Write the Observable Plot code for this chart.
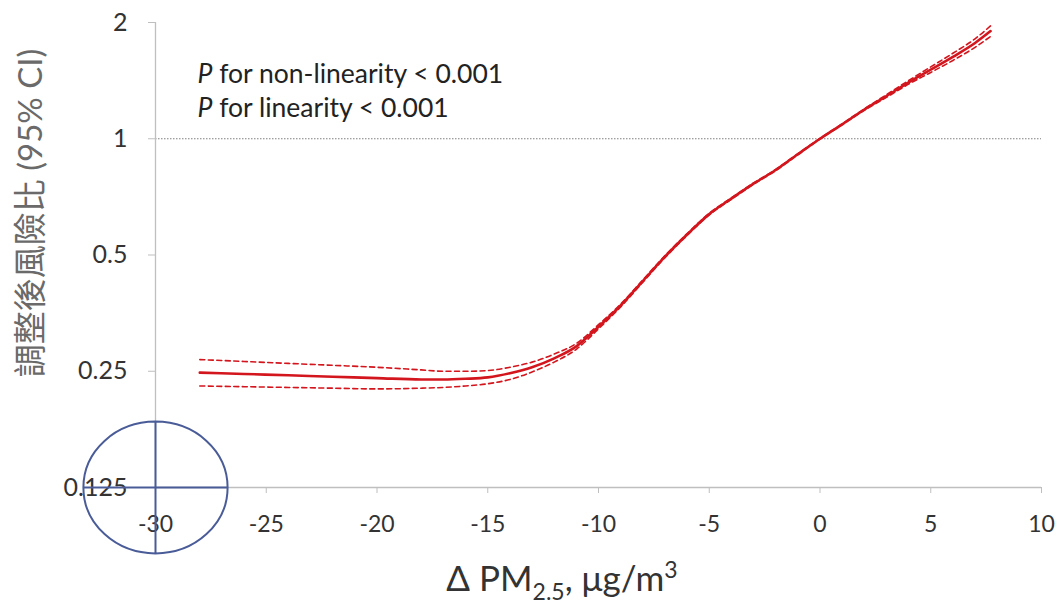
<!DOCTYPE html>
<html><head><meta charset="utf-8">
<script src="https://cdn.jsdelivr.net/npm/d3@7"></script>
<script src="https://cdn.jsdelivr.net/npm/@observablehq/plot@0.6"></script>
<style>body{margin:0;background:#fff} svg{display:block}</style>
</head><body><div id="chart"></div>
<script>
// ΔPM2.5 (µg/m³)
const xValues = [-28, -26, -24, -22, -20, -18, -17, -16, -15, -14, -13, -12, -11, -10, -9, -8, -7, -6, -5, -4, -3, -2, -1, 0, 1, 2, 3, 4, 5, 6, 7, 7.7];
// adjusted hazard ratio
const hr =    [0.248, 0.246, 0.244, 0.242, 0.240, 0.238, 0.238, 0.239, 0.241, 0.247, 0.256, 0.270, 0.290, 0.326, 0.370, 0.428, 0.495, 0.565, 0.638, 0.700, 0.765, 0.830, 0.912, 1.0, 1.09, 1.19, 1.29, 1.40, 1.51, 1.63, 1.77, 1.90];
const lower = [0.229, 0.228, 0.227, 0.226, 0.225, 0.226, 0.227, 0.229, 0.232, 0.238, 0.249, 0.264, 0.285, 0.322, 0.367, 0.425, 0.492, 0.562, 0.635, 0.697, 0.762, 0.827, 0.909, 0.998, 1.087, 1.185, 1.28, 1.385, 1.485, 1.595, 1.725, 1.84];
const upper = [0.268, 0.265, 0.262, 0.259, 0.256, 0.252, 0.250, 0.250, 0.251, 0.256, 0.264, 0.277, 0.295, 0.330, 0.373, 0.431, 0.498, 0.568, 0.641, 0.703, 0.768, 0.833, 0.915, 1.002, 1.093, 1.195, 1.30, 1.415, 1.535, 1.665, 1.815, 1.96];

const xTicks = [-30, -25, -20, -15, -10, -5, 0, 5, 10];
const yTicks = [0.125, 0.25, 0.5, 1, 2];
const yTickLabels = ["0.125", "0.25", "0.5", "1", "2"];
const refValue = [1];
const notes = ["P for non-linearity < 0.001", "P for linearity < 0.001"];
const yLabel = "調整後風險比 (95% CI)";
const xLabelParts = ["Δ PM", "2.5", ", μg/m", "3"];
const highlight = [{x: -30, y: 0.125}];

const rows = xValues.map((x, i) => ({x, hr: hr[i], lo: lower[i], hi: upper[i]}));

const red = "#d3151d";
const blue = "#4a5c98";
const axisGray = "#bfbfbf";
const font = "Lato, 'Noto Sans CJK TC', sans-serif";

// ellipse with cross (annotation symbol)
const ellipseCross = {
  draw(ctx, size) {
    const r = Math.sqrt(size / Math.PI);
    const rx = r * 1.045, ry = r * 0.955, k = 0.5523;
    ctx.moveTo(rx, 0);
    ctx.bezierCurveTo(rx, ry * k, rx * k, ry, 0, ry);
    ctx.bezierCurveTo(-rx * k, ry, -rx, ry * k, -rx, 0);
    ctx.bezierCurveTo(-rx, -ry * k, -rx * k, -ry, 0, -ry);
    ctx.bezierCurveTo(rx * k, -ry, rx, -ry * k, rx, 0);
    ctx.closePath();
    ctx.moveTo(-rx, 0); ctx.lineTo(rx, 0);
    ctx.moveTo(0, -ry); ctx.lineTo(0, ry);
  }
};

const chart = Plot.plot({
  width: 1063,
  height: 613,
  marginLeft: 155,
  marginRight: 22,
  marginTop: 22,
  marginBottom: 126,
  style: {fontFamily: font, background: "#fff", color: "#333"},
  x: {domain: [-30, 10], ticks: xTicks},
  y: {type: "log", base: 2, domain: [0.125, 2], ticks: yTicks},
  marks: [
    Plot.ruleY(refValue, {stroke: "#808080", strokeDasharray: "1.5,1.5", strokeWidth: 1.2}),
    Plot.ruleX([xTicks[0]], {stroke: axisGray, strokeWidth: 1.3}),
    Plot.ruleY([yTicks[0]], {stroke: axisGray, strokeWidth: 1.3}),
    Plot.axisX({ticks: xTicks, tickSize: 6, tickPadding: 22, fontSize: 23, stroke: axisGray, label: null, tickFormat: d => String(d)}),
    Plot.axisY({ticks: yTicks, tickSize: 7, tickPadding: 21, fontSize: 25, stroke: axisGray, label: null, tickFormat: d => yTickLabels[yTicks.indexOf(d)]}),
    Plot.line(rows, {x: "x", y: "lo", stroke: red, strokeWidth: 1.6, strokeDasharray: "5,3.5", curve: "monotone-x"}),
    Plot.line(rows, {x: "x", y: "hi", stroke: red, strokeWidth: 1.6, strokeDasharray: "5,3.5", curve: "monotone-x"}),
    Plot.line(rows, {x: "x", y: "hr", stroke: red, strokeWidth: 2.6, curve: "monotone-x"}),
    Plot.text([notes[0]], {frameAnchor: "top-left", dx: 42, dy: 42, textAnchor: "start", fontSize: 26.5, fill: "#222", className: "pnote"}),
    Plot.text([notes[1]], {frameAnchor: "top-left", dx: 42, dy: 76, textAnchor: "start", fontSize: 26.5, fill: "#222", className: "pnote"}),
    Plot.text([yLabel], {frameAnchor: "left", rotate: -90, dx: -124, dy: -42, textAnchor: "middle", fontSize: 33, fill: "#6a6a6a"}),
    Plot.dot(highlight, {x: "x", y: "y", r: 69, symbol: ellipseCross, stroke: blue, strokeWidth: 2, fill: "none", clip: false})
  ]
});

// italic "P" in the notes
d3.select(chart).selectAll(".pnote text").each(function() {
  const t = this.textContent;
  const sel = d3.select(this);
  sel.text(null);
  sel.append("tspan").attr("font-style", "italic").text(t.slice(0, 1));
  sel.append("tspan").text(t.slice(1));
});

// x-axis title with subscript and superscript
const xt = d3.select(chart).append("text")
  .attr("x", 562).attr("y", 591)
  .attr("text-anchor", "middle")
  .attr("font-family", font)
  .attr("font-size", 35)
  .attr("fill", "#333");
xt.append("tspan").text(xLabelParts[0]);
xt.append("tspan").attr("dy", 9).attr("font-size", 23).text(xLabelParts[1]);
xt.append("tspan").attr("dy", -9).text(xLabelParts[2]);
xt.append("tspan").attr("dy", -13).attr("font-size", 23).text(xLabelParts[3]);

document.getElementById("chart").appendChild(chart);
</script>
</body></html>
